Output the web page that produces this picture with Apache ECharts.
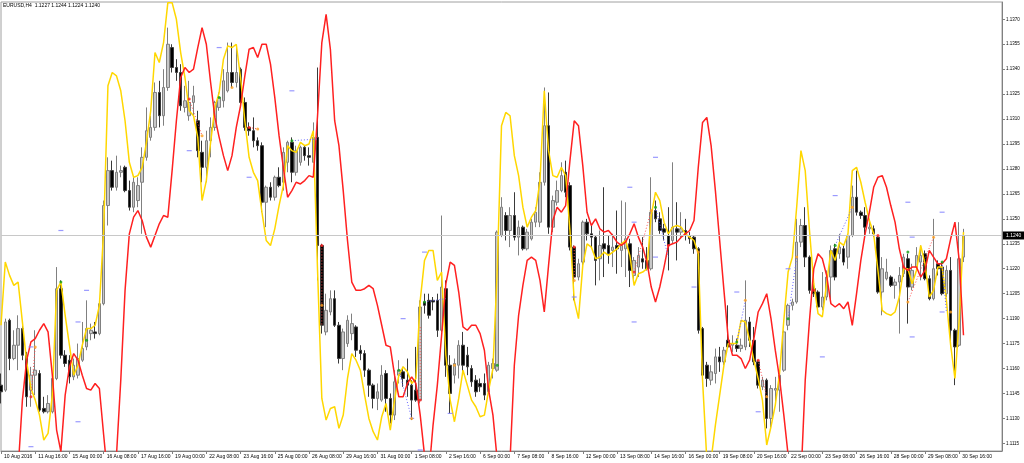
<!DOCTYPE html>
<html><head><meta charset="utf-8">
<script src="https://cdn.jsdelivr.net/npm/echarts@6/dist/echarts.min.js"></script>
<style>html,body{margin:0;padding:0;background:#fff}#c{width:1024px;height:463px}</style>
</head><body><div id="c"></div>
<script>
const symbolName = 'EURUSD,H4';
const tickLabels = ['10 Aug 2016','11 Aug 16:00','15 Aug 00:00','16 Aug 08:00','17 Aug 16:00','19 Aug 00:00','22 Aug 08:00','23 Aug 16:00','25 Aug 00:00','26 Aug 08:00','29 Aug 16:00','31 Aug 00:00','1 Sep 08:00','2 Sep 16:00','6 Sep 00:00','7 Sep 08:00','8 Sep 16:00','12 Sep 00:00','13 Sep 08:00','14 Sep 16:00','16 Sep 00:00','19 Sep 08:00','20 Sep 16:00','22 Sep 00:00','23 Sep 08:00','26 Sep 16:00','28 Sep 00:00','29 Sep 08:00','30 Sep 16:00'];
const priceTicks = [1.1115,1.1130,1.1145,1.1160,1.1175,1.1190,1.1205,1.1220,1.1235,1.1250,1.1265,1.1280,1.1295,1.1310,1.1325,1.1340,1.1355,1.1370];
const bidPrice = 1.1240;

const openP = [1.1150,1.1147,1.1189,1.1166,1.1174,1.1184,1.1168,1.1147,1.1156,1.1157,
1.1136,1.1134,1.1134,1.1154,1.1208,1.1168,1.1165,1.1155,1.1156,1.1165,
1.1173,1.1181,1.1182,1.1181,1.1199,1.1258,1.1279,1.1269,1.1278,1.1281,
1.1267,1.1257,1.1261,1.1272,1.1287,1.1299,1.1305,1.1326,1.1312,1.1329,
1.1353,1.1341,1.1338,1.1317,1.1312,1.1320,1.1309,1.1290,1.1281,1.1297,
1.1305,1.1317,1.1321,1.1327,1.1338,1.1332,1.1340,1.1320,1.1305,1.1303,
1.1297,1.1294,1.1260,1.1269,1.1263,1.1275,1.1272,1.1284,1.1296,1.1278,
1.1284,1.1293,1.1288,1.1284,1.1299,1.1234,1.1182,1.1194,1.1202,1.1186,
1.1166,1.1175,1.1181,1.1185,1.1171,1.1169,1.1159,1.1150,1.1142,1.1141,
1.1157,1.1142,1.1132,1.1156,1.1158,1.1153,1.1150,1.1147,1.1141,1.1200,
1.1201,1.1201,1.1201,1.1183,1.1208,1.1162,1.1156,1.1162,1.1174,1.1168,
1.1160,1.1153,1.1151,1.1151,1.1146,1.1160,1.1159,1.1240,1.1252,1.1243,
1.1252,1.1239,1.1245,1.1232,1.1238,1.1248,1.1248,1.1272,1.1306,1.1245,
1.1260,1.1267,1.1278,1.1270,1.1233,1.1215,1.1224,1.1248,1.1241,1.1239,
1.1226,1.1235,1.1234,1.1231,1.1234,1.1231,1.1232,1.1235,1.1216,1.1221,
1.1226,1.1225,1.1220,1.1255,1.1250,1.1244,1.1240,1.1237,1.1244,1.1242,
1.1243,1.1240,1.1239,1.1232,1.1184,1.1162,1.1153,1.1157,1.1167,1.1164,
1.1177,1.1174,1.1174,1.1172,1.1173,1.1188,1.1177,1.1164,1.1149,1.1153,
1.1130,1.1147,1.1147,1.1159,1.1186,1.1198,1.1200,1.1236,1.1246,1.1227,
1.1208,1.1206,1.1197,1.1203,1.1215,1.1232,1.1229,1.1232,1.1227,1.1240,
1.1263,1.1254,1.1252,1.1244,1.1244,1.1239,1.1206,1.1214,1.1215,1.1210,
1.1212,1.1217,1.1226,1.1209,1.1221,1.1224,1.1229,1.1214,1.1202,1.1223,
1.1221,1.1205,1.1219,1.1183,1.1174,1.1227];
const highP = [1.1157,1.1190,1.1190,1.1183,1.1192,1.1186,1.1170,1.1161,1.1183,1.1159,
1.1143,1.1144,1.1155,1.1221,1.1213,1.1171,1.1168,1.1166,1.1175,1.1188,
1.1201,1.1187,1.1188,1.1201,1.1261,1.1287,1.1285,1.1288,1.1282,1.1282,
1.1273,1.1275,1.1275,1.1293,1.1317,1.1312,1.1332,1.1333,1.1340,1.1365,
1.1355,1.1346,1.1343,1.1330,1.1333,1.1330,1.1315,1.1297,1.1303,1.1311,
1.1321,1.1326,1.1340,1.1356,1.1356,1.1353,1.1341,1.1323,1.1308,1.1311,
1.1299,1.1296,1.1270,1.1272,1.1276,1.1281,1.1293,1.1297,1.1299,1.1294,
1.1294,1.1294,1.1293,1.1308,1.1341,1.1235,1.1205,1.1207,1.1207,1.1188,
1.1184,1.1192,1.1193,1.1186,1.1174,1.1171,1.1160,1.1151,1.1151,1.1162,
1.1159,1.1145,1.1159,1.1165,1.1161,1.1166,1.1153,1.1173,1.1201,1.1205,
1.1205,1.1203,1.1205,1.1252,1.1213,1.1168,1.1166,1.1177,1.1182,1.1173,
1.1162,1.1156,1.1154,1.1157,1.1164,1.1166,1.1243,1.1263,1.1254,1.1257,
1.1266,1.1249,1.1246,1.1244,1.1250,1.1257,1.1278,1.1329,1.1326,1.1264,
1.1273,1.1284,1.1285,1.1272,1.1234,1.1226,1.1249,1.1250,1.1246,1.1240,
1.1243,1.1269,1.1240,1.1241,1.1255,1.1261,1.1260,1.1238,1.1227,1.1233,
1.1239,1.1233,1.1275,1.1261,1.1254,1.1247,1.1257,1.1284,1.1260,1.1254,
1.1250,1.1242,1.1240,1.1233,1.1185,1.1164,1.1162,1.1172,1.1173,1.1173,
1.1198,1.1180,1.1178,1.1178,1.1213,1.1191,1.1185,1.1165,1.1155,1.1154,
1.1150,1.1155,1.1159,1.1183,1.1199,1.1202,1.1250,1.1250,1.1257,1.1228,
1.1211,1.1207,1.1218,1.1219,1.1234,1.1235,1.1241,1.1234,1.1241,1.1270,
1.1279,1.1255,1.1257,1.1250,1.1246,1.1240,1.1227,1.1226,1.1216,1.1214,
1.1221,1.1229,1.1229,1.1223,1.1233,1.1234,1.1231,1.1216,1.1250,1.1225,
1.1224,1.1222,1.1227,1.1184,1.1248,1.1244];
const lowP = [1.1139,1.1146,1.1159,1.1165,1.1159,1.1165,1.1137,1.1137,1.1144,1.1134,
1.1133,1.1133,1.1133,1.1153,1.1166,1.1161,1.1151,1.1153,1.1154,1.1164,
1.1171,1.1177,1.1178,1.1180,1.1198,1.1246,1.1267,1.1267,1.1275,1.1266,
1.1255,1.1254,1.1257,1.1241,1.1285,1.1297,1.1303,1.1305,1.1306,1.1327,
1.1338,1.1333,1.1315,1.1314,1.1309,1.1312,1.1287,1.1272,1.1272,1.1287,
1.1303,1.1315,1.1317,1.1326,1.1329,1.1329,1.1317,1.1303,1.1300,1.1293,
1.1291,1.1254,1.1245,1.1261,1.1261,1.1269,1.1267,1.1278,1.1272,1.1276,
1.1282,1.1285,1.1282,1.1284,1.1213,1.1181,1.1180,1.1192,1.1185,1.1163,
1.1159,1.1173,1.1177,1.1167,1.1165,1.1155,1.1143,1.1136,1.1135,1.1140,
1.1134,1.1127,1.1129,1.1151,1.1149,1.1143,1.1129,1.1140,1.1139,1.1193,
1.1190,1.1195,1.1179,1.1182,1.1155,1.1133,1.1151,1.1154,1.1158,1.1156,
1.1149,1.1143,1.1146,1.1141,1.1145,1.1154,1.1158,1.1239,1.1237,1.1233,
1.1237,1.1228,1.1231,1.1231,1.1237,1.1245,1.1245,1.1270,1.1241,1.1242,
1.1258,1.1266,1.1263,1.1231,1.1201,1.1213,1.1222,1.1237,1.1233,1.1210,
1.1213,1.1215,1.1223,1.1221,1.1217,1.1221,1.1215,1.1209,1.1213,1.1215,
1.1220,1.1219,1.1219,1.1248,1.1241,1.1237,1.1219,1.1235,1.1225,1.1238,
1.1237,1.1235,1.1229,1.1181,1.1151,1.1149,1.1150,1.1151,1.1158,1.1162,
1.1172,1.1170,1.1170,1.1170,1.1171,1.1173,1.1162,1.1148,1.1147,1.1124,
1.1124,1.1139,1.1134,1.1158,1.1183,1.1195,1.1199,1.1233,1.1221,1.1205,
1.1203,1.1195,1.1195,1.1201,1.1201,1.1213,1.1226,1.1222,1.1220,1.1239,
1.1252,1.1250,1.1238,1.1241,1.1239,1.1205,1.1192,1.1213,1.1209,1.1202,
1.1181,1.1215,1.1187,1.1207,1.1219,1.1213,1.1213,1.1201,1.1201,1.1216,
1.1204,1.1203,1.1175,1.1150,1.1173,1.1224];
const closeP = [1.1146,1.1188,1.1166,1.1174,1.1184,1.1168,1.1143,1.1156,1.1159,1.1135,
1.1134,1.1139,1.1154,1.1208,1.1168,1.1163,1.1155,1.1162,1.1166,1.1172,
1.1184,1.1183,1.1181,1.1199,1.1258,1.1279,1.1269,1.1278,1.1279,1.1267,
1.1257,1.1272,1.1270,1.1287,1.1303,1.1305,1.1326,1.1312,1.1329,1.1355,
1.1341,1.1338,1.1318,1.1321,1.1320,1.1324,1.1291,1.1281,1.1297,1.1305,
1.1320,1.1323,1.1333,1.1338,1.1332,1.1338,1.1320,1.1305,1.1303,1.1297,
1.1294,1.1260,1.1269,1.1263,1.1275,1.1270,1.1290,1.1296,1.1278,1.1291,
1.1293,1.1288,1.1287,1.1299,1.1234,1.1186,1.1195,1.1202,1.1186,1.1166,
1.1182,1.1189,1.1187,1.1171,1.1169,1.1159,1.1150,1.1142,1.1146,1.1156,
1.1142,1.1132,1.1152,1.1159,1.1154,1.1150,1.1141,1.1141,1.1197,1.1198,
1.1192,1.1200,1.1183,1.1209,1.1162,1.1145,1.1163,1.1174,1.1162,1.1161,
1.1152,1.1146,1.1149,1.1144,1.1162,1.1163,1.1242,1.1257,1.1243,1.1252,
1.1239,1.1245,1.1232,1.1242,1.1248,1.1254,1.1272,1.1306,1.1245,1.1261,
1.1267,1.1276,1.1266,1.1233,1.1215,1.1223,1.1248,1.1241,1.1239,1.1225,
1.1234,1.1232,1.1229,1.1233,1.1232,1.1234,1.1238,1.1219,1.1225,1.1228,
1.1224,1.1220,1.1254,1.1250,1.1243,1.1242,1.1234,1.1245,1.1242,1.1244,
1.1240,1.1238,1.1232,1.1183,1.1156,1.1154,1.1158,1.1167,1.1164,1.1171,
1.1173,1.1175,1.1172,1.1174,1.1189,1.1177,1.1164,1.1150,1.1153,1.1130,
1.1148,1.1148,1.1156,1.1182,1.1198,1.1200,1.1236,1.1246,1.1227,1.1207,
1.1205,1.1197,1.1203,1.1215,1.1231,1.1215,1.1233,1.1224,1.1240,1.1263,
1.1254,1.1252,1.1245,1.1245,1.1241,1.1206,1.1220,1.1218,1.1210,1.1212,
1.1216,1.1227,1.1209,1.1219,1.1228,1.1228,1.1214,1.1202,1.1220,1.1220,
1.1205,1.1219,1.1183,1.1173,1.1226,1.1240];

const yellowLine = [1.1186,1.1224,1.1216,1.1210,1.1212,1.1188,1.1164,1.1148,1.1141,1.1132,
1.1117,1.1121,1.1144,1.1207,1.1212,1.1192,1.1174,1.1156,1.1162,1.1174,
1.1184,1.1184,1.1186,1.1198,1.1243,1.1330,1.1338,1.1336,1.1327,1.1309,
1.1284,1.1275,1.1276,1.1281,1.1296,1.1315,1.1350,1.1344,1.1356,1.1380,
1.1380,1.1370,1.1350,1.1335,1.1315,1.1312,1.1299,1.1261,1.1273,1.1296,
1.1317,1.1326,1.1346,1.1354,1.1353,1.1355,1.1335,1.1309,1.1287,1.1278,
1.1273,1.1254,1.1237,1.1234,1.1244,1.1258,1.1270,1.1294,1.1291,1.1290,
1.1296,1.1294,1.1295,1.1303,1.1219,1.1142,1.1129,1.1136,1.1137,1.1124,
1.1132,1.1154,1.1169,1.1165,1.1159,1.1144,1.1130,1.1122,1.1117,1.1131,
1.1139,1.1123,1.1141,1.1156,1.1161,1.1158,1.1151,1.1154,1.1201,1.1225,
1.1231,1.1231,1.1213,1.1218,1.1168,1.1141,1.1128,1.1142,1.1159,1.1150,
1.1141,1.1137,1.1131,1.1132,1.1147,1.1160,1.1219,1.1306,1.1314,1.1312,
1.1288,1.1276,1.1257,1.1245,1.1251,1.1255,1.1273,1.1327,1.1291,1.1276,
1.1275,1.1281,1.1276,1.1243,1.1201,1.1190,1.1222,1.1235,1.1233,1.1226,
1.1227,1.1230,1.1228,1.1230,1.1232,1.1235,1.1237,1.1228,1.1210,1.1217,
1.1218,1.1220,1.1252,1.1266,1.1261,1.1248,1.1241,1.1245,1.1246,1.1245,
1.1241,1.1239,1.1237,1.1229,1.1153,1.1105,1.1105,1.1126,1.1144,1.1162,
1.1175,1.1175,1.1175,1.1189,1.1188,1.1177,1.1165,1.1154,1.1141,1.1114,
1.1125,1.1138,1.1157,1.1189,1.1218,1.1227,1.1257,1.1291,1.1279,1.1243,
1.1211,1.1193,1.1191,1.1211,1.1231,1.1225,1.1236,1.1234,1.1241,1.1279,
1.1281,1.1272,1.1260,1.1249,1.1241,1.1219,1.1195,1.1193,1.1192,1.1194,
1.1203,1.1220,1.1220,1.1211,1.1219,1.1234,1.1223,1.1203,1.1207,1.1221,
1.1221,1.1201,1.1174,1.1154,1.1189,1.1242];
const redLine = [1.1069,1.1069,1.1075,1.1081,1.1099,1.1141,1.1165,1.1176,1.1178,1.1183,
1.1187,1.1182,1.1156,1.1123,1.1110,1.1144,1.1161,1.1169,1.1165,1.1156,
1.1148,1.1147,1.1151,1.1148,1.1120,1.1093,1.1087,1.1108,1.1153,1.1207,
1.1241,1.1251,1.1255,1.1249,1.1239,1.1233,1.1240,1.1247,1.1252,1.1251,
1.1279,1.1309,1.1335,1.1341,1.1338,1.1340,1.1353,1.1365,1.1355,1.1332,
1.1311,1.1299,1.1288,1.1279,1.1288,1.1305,1.1318,1.1336,1.1352,1.1353,
1.1347,1.1355,1.1355,1.1343,1.1323,1.1300,1.1281,1.1263,1.1267,1.1272,
1.1271,1.1273,1.1276,1.1275,1.1312,1.1356,1.1373,1.1352,1.1309,1.1294,
1.1267,1.1237,1.1212,1.1207,1.1207,1.1208,1.1210,1.1208,1.1198,1.1186,
1.1174,1.1173,1.1156,1.1143,1.1143,1.1151,1.1155,1.1151,1.1132,1.1108,
1.1096,1.1126,1.1150,1.1180,1.1211,1.1224,1.1222,1.1206,1.1185,1.1183,
1.1186,1.1186,1.1181,1.1171,1.1147,1.1132,1.1105,1.1081,1.1081,1.1105,
1.1162,1.1192,1.1210,1.1225,1.1227,1.1225,1.1213,1.1194,1.1222,1.1249,
1.1257,1.1254,1.1258,1.1285,1.1309,1.1306,1.1282,1.1254,1.1246,1.1250,
1.1244,1.1242,1.1243,1.1240,1.1236,1.1234,1.1236,1.1241,1.1247,1.1239,
1.1233,1.1224,1.1209,1.1200,1.1209,1.1221,1.1234,1.1235,1.1236,1.1239,
1.1241,1.1243,1.1249,1.1281,1.1308,1.1311,1.1294,1.1267,1.1237,1.1207,
1.1178,1.1168,1.1168,1.1166,1.1160,1.1165,1.1178,1.1194,1.1199,1.1205,
1.1190,1.1171,1.1154,1.1132,1.1108,1.1087,1.1081,1.1093,1.1153,1.1189,
1.1220,1.1229,1.1226,1.1216,1.1199,1.1197,1.1199,1.1196,1.1200,1.1186,
1.1205,1.1225,1.1241,1.1254,1.1269,1.1275,1.1276,1.1269,1.1258,1.1248,
1.1232,1.1221,1.1219,1.1221,1.1221,1.1215,1.1219,1.1231,1.1227,1.1223,
1.1223,1.1226,1.1238,1.1248,1.1225,1.1180];

const blueMarks = [[7,1.1113],[7,1.1173],[14,1.1243],[18,1.1188],[18,1.1128],[20,1.1207],[44,1.1291],[51,1.1353],[58,1.1275],[68,1.1327],[94,1.1190],[96,1.1130],[98,1.1111],[99,1.1230],[105,1.1133],[134,1.1203],[147,1.1269],[148,1.1248],[148,1.1188],[153,1.1287],[153,1.1227],[162,1.1209],[172,1.1206],[177,1.1134],[184,1.1220],[192,1.1167],[195,1.1264],[212,1.1260],[213,1.1239],[213,1.1179],[220,1.1254],[220,1.1194]];
const greenDots = [[14,1.1212],[20,1.1177],[51,1.1323],[68,1.1297],[93,1.1159],[99,1.1200],[116,1.1162],[153,1.1257],[172,1.1176],[184,1.1190],[195,1.1234],[212,1.1230],[220,1.1224]];
const redDots = [[7,1.1143],[44,1.1322],[58,1.1305],[75,1.1234],[98,1.1141],[134,1.1233],[148,1.1218],[156,1.1234],[177,1.1165],[190,1.1207],[205,1.1240],[211,1.1221]];
const orangeDots = [[8,1.1173],[47,1.1300],[54,1.1329],[60,1.1304],[75,1.1198],[96,1.1130],[106,1.1162],[134,1.1213],[152,1.1255],[163,1.1230],[174,1.1201],[179,1.1143],[186,1.1227],[199,1.1257],[212,1.1200],[218,1.1239],[222,1.1194]];
const blueDotted = [
  [[68,1.1297],[74,1.1298]],
  [[93,1.1159],[96,1.1130]],
  [[99,1.1200],[104,1.1202]],
  [[153,1.1257],[156,1.1227]],
  [[172,1.1176],[174,1.1201]],
  [[184,1.1190],[186,1.1227]],
  [[195,1.1234],[199,1.1257]],
  [[220,1.1224],[221,1.1194]]
];
const redDotted = [
  [[7,1.1143],[8,1.1173]],
  [[44,1.1322],[47,1.1300]],
  [[58,1.1305],[60,1.1304]],
  [[75,1.1234],[75,1.1186]],
  [[98,1.1141],[98,1.1185]],
  [[134,1.1233],[134,1.1213]],
  [[148,1.1218],[152,1.1255]],
  [[177,1.1165],[179,1.1143]],
  [[212,1.1200],[218,1.1239]]
];
const chartShiftBars = 9;

const nBars = openP.length;
const cats = [];
for (let i = 0; i < nBars + chartShiftBars; i++) cats.push('b' + i);
const candles = openP.map((o, i) => [o, closeP[i], lowP[i], highP[i]]);
const FONT = 'Liberation Sans, Arial, sans-serif';
const showIdx = (i) => i % 8 === 0 && i / 8 < tickLabels.length;

const series = [
  {
    type: 'candlestick', data: candles, barWidth: 3,
    itemStyle: { color: '#c8c8c8', color0: '#000000', borderColor: '#808080', borderColor0: '#3a3a3a', borderWidth: 1 },
    markLine: {
      silent: true, symbol: ['none', 'none'], animation: false, precision: 4,
      lineStyle: { color: '#c8c8c8', width: 1, type: 'solid' },
      label: { show: true, position: 'end', distance: 1, formatter: p => Number(p.value).toFixed(4),
        backgroundColor: '#000', color: '#fff', fontSize: 5, fontFamily: FONT, padding: [2, 3, 1, 3] },
      data: [{ yAxis: bidPrice }]
    },
    z: 3
  },
  { type: 'line', data: yellowLine, showSymbol: false, symbol: 'none', lineStyle: { color: '#ffd700', width: 1.5 }, z: 4 },
  { type: 'line', data: redLine, showSymbol: false, symbol: 'none', lineStyle: { color: '#ff2020', width: 1.5 }, z: 4 },
  { type: 'scatter', data: blueMarks, symbol: 'rect', symbolSize: [5, 1.2], itemStyle: { color: '#7f7fff' }, z: 5 }
];
blueDotted.forEach(seg => series.push({ type: 'line', data: seg, showSymbol: false, symbol: 'none',
  lineStyle: { color: '#6666ff', width: 1, type: [1, 2] }, z: 5 }));
redDotted.forEach(seg => series.push({ type: 'line', data: seg, showSymbol: false, symbol: 'none',
  lineStyle: { color: '#ff5050', width: 1, type: [1, 2] }, z: 5 }));
series.push({ type: 'scatter', data: greenDots, symbol: 'circle', symbolSize: 3, itemStyle: { color: '#10a010' }, z: 6 });
series.push({ type: 'scatter', data: redDots, symbol: 'circle', symbolSize: 3, itemStyle: { color: '#ff2020' }, z: 6 });
series.push({ type: 'scatter', data: orangeDots, symbol: 'circle', symbolSize: 3, itemStyle: { color: '#ffa020' }, z: 6 });

const chart = echarts.init(document.getElementById('c'), null, { renderer: 'canvas' });
chart.setOption({
  animation: false,
  backgroundColor: '#ffffff',
  title: {
    text: symbolName + '  ' + [openP[nBars-1], highP[nBars-1], lowP[nBars-1], closeP[nBars-1]].map(v => v.toFixed(4)).join(' '),
    left: 3, top: 3, padding: 0,
    textStyle: { fontSize: 5, fontWeight: 'normal', color: '#000', fontFamily: FONT }
  },
  grid: { left: 1, right: 22, top: 2, bottom: 12, show: true, borderColor: '#a0a0a0', borderWidth: 1, containLabel: false },
  xAxis: {
    type: 'category', data: cats, boundaryGap: false,
    axisLine: { show: true, lineStyle: { color: '#808080', width: 1 } },
    axisTick: { show: true, interval: (i) => showIdx(i), length: 3, lineStyle: { color: '#808080' } },
    axisLabel: { show: true, interval: (i) => showIdx(i), formatter: (v, i) => showIdx(i) ? tickLabels[i / 8] : '',
      align: 'left', fontSize: 5, color: '#000', fontFamily: FONT, margin: 3, padding: [0, 0, 0, 3] },
    splitLine: { show: false }
  },
  yAxis: {
    type: 'value', position: 'right', min: 1.11104, max: 1.13804, scale: true,
    axisLine: { show: true, lineStyle: { color: '#808080', width: 1 } },
    axisTick: { show: true, customValues: priceTicks, length: 3, lineStyle: { color: '#808080' } },
    axisLabel: { show: true, customValues: priceTicks, formatter: v => v.toFixed(4), fontSize: 4.5, color: '#000', fontFamily: FONT, margin: 4 },
    splitLine: { show: false }
  },
  series: series
});
</script></body></html>
